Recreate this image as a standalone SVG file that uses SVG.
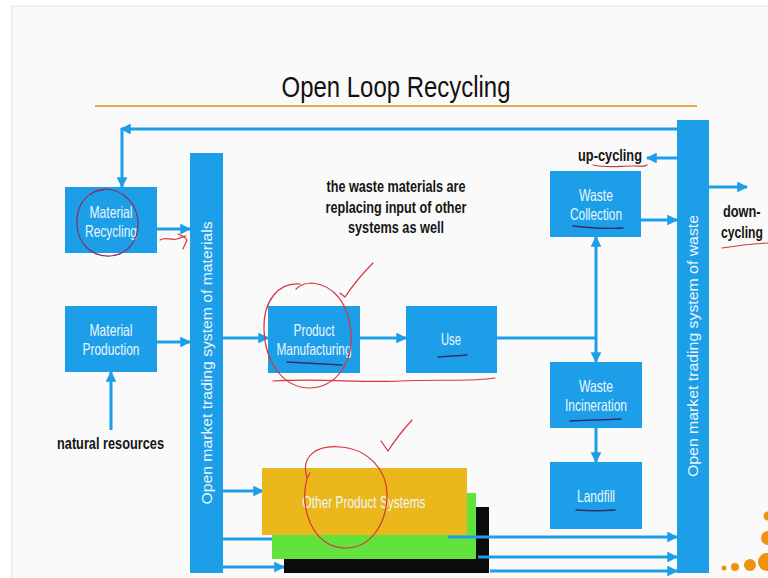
<svg xmlns="http://www.w3.org/2000/svg" width="768" height="578" viewBox="0 0 768 578">
  <defs>
    <marker id="arrow" viewBox="0 0 10 10" refX="9" refY="5" markerWidth="3.6" markerHeight="3.6" orient="auto" markerUnits="strokeWidth">
      <path d="M0,0 L10,5 L0,10 z" fill="#1C9FE8"/>
    </marker>
    <style>
      .box { fill: #1C9FE8; }
      .lbl { font-family: "Liberation Sans", Arial, sans-serif; font-size: 16.5px; fill: #EEF6FC; text-anchor: middle; }
      .bold { font-family: "Liberation Sans", Arial, sans-serif; font-size: 16px; font-weight: bold; fill: #151515; }
      .col { font-family: "Liberation Sans", Arial, sans-serif; font-size: 15.5px; fill: #EEF6FC; text-anchor: middle; }
      .wire { stroke: #1C9FE8; stroke-width: 3; fill: none; }
      .wire.a { marker-end: url(#arrow); }
      .pen { fill: none; stroke: #D8343C; stroke-width: 1.2; stroke-linecap: round; stroke-linejoin: round; }
      .ink { fill: none; stroke: #3A2A6A; stroke-width: 1.4; stroke-linecap: round; }
      .mag { fill: none; stroke: #8E2B5C; stroke-width: 1.2; }
    </style>
  </defs>

  <!-- slide background -->
  <rect x="0" y="0" width="768" height="578" fill="#FFFFFF"/>
  <rect x="12" y="6" width="770" height="580" fill="#FAFAFA" stroke="#E4E4E4" stroke-width="1"/>

  <!-- title -->
  <text x="396" y="97" font-family="'Liberation Sans', Arial, sans-serif" font-size="30" fill="#111" text-anchor="middle" textLength="229" lengthAdjust="spacingAndGlyphs">Open Loop Recycling</text>
  <line x1="95" y1="106" x2="697" y2="106" stroke="#E9A74A" stroke-width="2"/>

  <!-- connectors -->
  <g id="connectors">
    <line class="wire a" x1="677" y1="129" x2="121" y2="129"/>
    <line class="wire a" x1="122" y1="128" x2="122" y2="187"/>
    <line class="wire a" x1="157" y1="229" x2="190" y2="229"/>
    <line class="wire a" x1="157" y1="342" x2="190" y2="342"/>
    <line class="wire a" x1="111" y1="430" x2="111" y2="372"/>
    <line class="wire a" x1="223" y1="338" x2="268" y2="338"/>
    <line class="wire a" x1="360" y1="338" x2="406" y2="338"/>
    <line class="wire" x1="497" y1="338" x2="597" y2="338"/>
    <line class="wire a" x1="596" y1="338" x2="596" y2="237"/>
    <line class="wire a" x1="596" y1="338" x2="596" y2="362"/>
    <line class="wire a" x1="596" y1="428" x2="596" y2="462"/>
    <line class="wire a" x1="641" y1="220" x2="677" y2="220"/>
    <line class="wire a" x1="677" y1="158" x2="647" y2="158"/>
    <line class="wire a" x1="709" y1="187" x2="747" y2="187"/>
    <line class="wire a" x1="223" y1="491" x2="263" y2="491"/>
    <line class="wire a" x1="223" y1="539" x2="283" y2="539"/>
    <line class="wire a" x1="223" y1="567" x2="284" y2="567"/>
  </g>

  <!-- market columns -->
  <g id="market-materials">
    <rect class="box" x="190" y="153" width="33" height="420"/>
    <text class="col" transform="translate(212,363) rotate(-90)" textLength="283" lengthAdjust="spacingAndGlyphs">Open market trading system of materials</text>
  </g>
  <g id="market-waste">
    <rect class="box" x="677" y="120" width="32" height="453"/>
    <text class="col" transform="translate(698,346) rotate(-90)" textLength="262" lengthAdjust="spacingAndGlyphs">Open market trading system of waste</text>
  </g>

  <!-- process nodes -->
  <g id="material-recycling">
    <rect class="box" x="65" y="187" width="92" height="66"/>
    <text class="lbl" x="111" y="218" textLength="43" lengthAdjust="spacingAndGlyphs">Material</text>
    <text class="lbl" x="111" y="237" textLength="52" lengthAdjust="spacingAndGlyphs">Recycling</text>
  </g>
  <g id="material-production">
    <rect class="box" x="65" y="306" width="92" height="66"/>
    <text class="lbl" x="111" y="336" textLength="43" lengthAdjust="spacingAndGlyphs">Material</text>
    <text class="lbl" x="111" y="355" textLength="57" lengthAdjust="spacingAndGlyphs">Production</text>
  </g>
  <g id="product-manufacturing">
    <rect class="box" x="268" y="306" width="92" height="67"/>
    <text class="lbl" x="314" y="336" textLength="41" lengthAdjust="spacingAndGlyphs">Product</text>
    <text class="lbl" x="314" y="355" textLength="75" lengthAdjust="spacingAndGlyphs">Manufacturing</text>
  </g>
  <g id="use">
    <rect class="box" x="406" y="306" width="91" height="67"/>
    <text class="lbl" x="451" y="345" textLength="20" lengthAdjust="spacingAndGlyphs">Use</text>
  </g>
  <g id="waste-collection">
    <rect class="box" x="550" y="171" width="91" height="66"/>
    <text class="lbl" x="596" y="201" textLength="34" lengthAdjust="spacingAndGlyphs">Waste</text>
    <text class="lbl" x="596" y="220" textLength="52" lengthAdjust="spacingAndGlyphs">Collection</text>
  </g>
  <g id="waste-incineration">
    <rect class="box" x="550" y="362" width="92" height="66"/>
    <text class="lbl" x="596" y="392" textLength="34" lengthAdjust="spacingAndGlyphs">Waste</text>
    <text class="lbl" x="596" y="411" textLength="62" lengthAdjust="spacingAndGlyphs">Incineration</text>
  </g>
  <g id="landfill">
    <rect class="box" x="550" y="462" width="92" height="67"/>
    <text class="lbl" x="596" y="502" textLength="38" lengthAdjust="spacingAndGlyphs">Landfill</text>
  </g>

  <!-- stacked product systems -->
  <g id="other-product-systems">
    <rect x="284" y="507" width="205" height="66" fill="#0B0B0B"/>
    <rect x="272" y="493" width="204" height="66" fill="#62E23C"/>
    <rect x="262" y="468" width="205" height="67" fill="#EAB81A"/>
    <text class="lbl" x="364" y="508" textLength="123" lengthAdjust="spacingAndGlyphs">Other Product Systems</text>
  </g>
  <g id="outputs">
    <line class="wire a" x1="448" y1="537" x2="677" y2="537"/>
    <line class="wire a" x1="478" y1="557" x2="677" y2="557"/>
    <line class="wire a" x1="490" y1="571" x2="677" y2="571"/>
  </g>

  <!-- free labels -->
  <g id="note">
    <text class="bold" x="396" y="192" text-anchor="middle" textLength="139" lengthAdjust="spacingAndGlyphs">the waste materials are</text>
    <text class="bold" x="396" y="213" text-anchor="middle" textLength="141" lengthAdjust="spacingAndGlyphs">replacing input of other</text>
    <text class="bold" x="396" y="233" text-anchor="middle" textLength="96" lengthAdjust="spacingAndGlyphs">systems as well</text>
  </g>
  <g id="natural-resources">
    <text class="bold" x="57" y="449" textLength="107" lengthAdjust="spacingAndGlyphs">natural resources</text>
  </g>
  <g id="up-cycling">
    <text class="bold" x="578" y="161" textLength="64" lengthAdjust="spacingAndGlyphs">up-cycling</text>
  </g>
  <g id="down-cycling">
    <text class="bold" transform="translate(723,217) scale(0.8,1)">down-</text>
    <text class="bold" transform="translate(721,238) scale(0.76,1)">cycling</text>
  </g>

  <!-- logo dots -->
  <g fill="#EE920F">
    <circle cx="724" cy="568" r="2.5"/>
    <circle cx="735" cy="567" r="4"/>
    <circle cx="750" cy="565" r="6"/>
    <circle cx="767" cy="562" r="9"/>
    <circle cx="768" cy="538" r="7"/>
    <circle cx="768" cy="516" r="4.5"/>
  </g>

  <!-- pen marks -->
  <g id="pen-marks">
    <path class="mag" d="M104,190 C84,191 76,208 77,225 C78,244 92,257 110,256 C128,255 139,240 138,222 C137,204 124,190 106,189 C98,189 93,192 90,195"/>
    <path class="pen" d="M160,240 C166,236 171,241 177,239 C181,238 183,236 186,236 M178,234 C183,236 186,238 187,240 C186,243 184,246 183,249"/>
    <path class="pen" d="M340,293 L345,297 C353,285 363,273 373,263"/>
    <path class="pen" d="M300,284 C279,282 263,300 264,330 C265,362 283,388 310,388 C337,387 353,362 351,333 C349,304 334,285 312,283 C306,283 300,285 296,289"/>
    <path class="pen" d="M273,381 C320,378 360,383 400,381 C440,379 470,382 495,378"/>
    <path class="ink" d="M287,362 C305,363 325,364 342,365"/>
    <path class="ink" d="M438,357 C448,356 458,356 467,355"/>
    <path class="pen" d="M381,441 L388,451 C395,440 403,430 412,420"/>
    <path class="pen" d="M307,478 C300,455 318,445 340,447 C368,449 388,470 387,497 C386,525 370,548 346,548 C322,548 308,528 305,503 C304,490 306,478 310,473"/>
    <path class="ink" d="M573,226 C590,228 606,229 623,228"/>
    <path class="ink" d="M570,421 C587,420 604,420 621,419"/>
    <path class="ink" d="M576,510 C589,511 602,511 615,510"/>
    <path class="pen" d="M593,165 C605,168 620,166 633,166 C640,166 645,167 647,165"/>
    <path class="pen" d="M722,248 C735,246 750,244 768,243"/>
  </g>
</svg>
